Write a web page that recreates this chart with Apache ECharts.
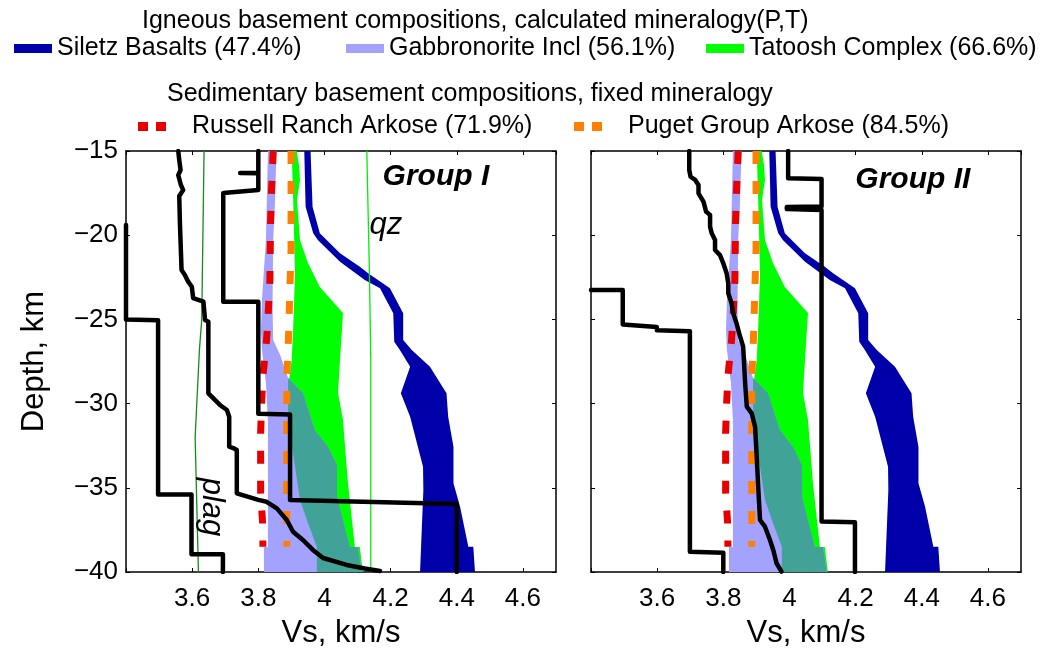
<!DOCTYPE html>
<html>
<head>
<meta charset="utf-8">
<script src="https://cdn.jsdelivr.net/npm/echarts@6/dist/echarts.min.js"></script>
<style>
  html, body { margin: 0; padding: 0; background: #ffffff; }
  #chart { width: 1053px; height: 649px; }
</style>
</head>
<body>
<div id="chart"></div>
<script>
// ---- axis ranges ----
const vsRange = [3.4, 4.7];
const vsStep = 0.2;
const depthRange = [-40, -15];
const depthStep = 5;

// ---- igneous compositions (bands: left / right Vs bound vs depth) ----
const siletzLeft = [[3.939,-15],[3.943,-18.31],[3.966,-19.89],[3.980,-20.29],[4.047,-21.57],[4.122,-22.66],[4.168,-23.15],[4.208,-24.64],[4.211,-26.32],[4.228,-26.82],[4.259,-27.81],[4.231,-29.39],[4.259,-30.78],[4.298,-33.75],[4.299,-35.13],[4.289,-40]];
const siletzRight = [[3.958,-15],[3.964,-18.31],[3.986,-19.89],[4.047,-21.07],[4.107,-21.87],[4.132,-22.26],[4.198,-23.15],[4.238,-24.64],[4.238,-26.22],[4.264,-26.82],[4.319,-27.81],[4.369,-29.39],[4.374,-30.78],[4.390,-32.56],[4.390,-34.73],[4.410,-36.12],[4.435,-38.50],[4.450,-38.50],[4.455,-40]];

const gabbroLeft = [[3.829,-15],[3.823,-20.29],[3.811,-23.85],[3.808,-25.63],[3.811,-26.82],[3.823,-28.78],[3.829,-30.97],[3.829,-38.52],[3.817,-38.52],[3.817,-40]];
const gabbroRight = [[3.855,-15],[3.850,-18.33],[3.845,-20.29],[3.843,-24.26],[3.845,-26.22],[3.866,-27.11],[3.890,-28.48],[3.935,-29.37],[3.971,-31.57],[4.011,-32.58],[4.038,-33.65],[4.038,-35.55],[4.077,-38.52],[4.101,-38.52],[4.113,-40]];

const tatooshLeft = [[3.901,-15],[3.906,-18.33],[3.911,-22.24],[3.906,-25.21],[3.901,-27.41],[3.893,-28.6],[3.890,-30.38],[3.899,-32.16],[3.926,-35.72],[3.950,-37.09],[3.977,-38.52],[3.977,-40]];
const tatooshRight = [[3.916,-15],[3.923,-15.83],[3.926,-16.72],[3.917,-17.91],[3.926,-20.29],[3.950,-21.65],[3.986,-23.08],[4.056,-24.62],[4.047,-27.41],[4.041,-29.37],[4.056,-30.97],[4.071,-34.71],[4.092,-38.52],[4.107,-38.52],[4.116,-40]];

// where the gabbronorite and Tatoosh ranges overlap
const overlapLeft = [[3.890,-28.48],[3.890,-30.38],[3.899,-32.16],[3.926,-35.72],[3.950,-37.09],[3.977,-38.52],[3.977,-40]];
const overlapRight = [[3.890,-28.48],[3.935,-29.37],[3.971,-31.57],[4.011,-32.58],[4.038,-33.65],[4.038,-35.55],[4.077,-38.52],[4.101,-38.52],[4.113,-40]];

// ---- sedimentary compositions (fixed mineralogy) ----
const russellRanch = [[3.845,-15],[3.840,-17.32],[3.837,-19.28],[3.835,-22.66],[3.830,-24.62],[3.825,-26.22],[3.815,-28.18],[3.810,-29.96],[3.807,-31.75],[3.807,-35.31],[3.813,-37.09],[3.814,-38.5]];
const pugetGroup = [[3.899,-15],[3.899,-20.88],[3.891,-26.22],[3.886,-28.6],[3.886,-38.5]];

// ---- single-mineral references ----
const plagLine = [[3.636,-15],[3.629,-25.0],[3.622,-26.8],[3.609,-32.0],[3.619,-40]];
const qzLine = [[4.128,-15],[4.136,-22.3],[4.140,-27.4],[4.140,-40]];

// ---- observed Vs profiles, Group I ----
const groupIProfileA = [[3.40,-19.4],[3.40,-25.0],[3.497,-25.05],[3.497,-35.4],[3.598,-35.4],[3.598,-38.95],[3.693,-38.95],[3.693,-40]];
const groupIProfileB = [[3.558,-15],[3.561,-15.53],[3.565,-16.13],[3.558,-16.43],[3.566,-17.02],[3.573,-17.32],[3.561,-17.67],[3.563,-19.28],[3.568,-22.07],[3.578,-22.36],[3.588,-22.76],[3.599,-23.06],[3.603,-23.73],[3.634,-23.95],[3.639,-25.04],[3.649,-25.14],[3.649,-29.39],[3.659,-29.59],[3.684,-30.08],[3.705,-30.38],[3.712,-30.78],[3.712,-32.56],[3.724,-32.64],[3.735,-32.76],[3.735,-35.33],[3.800,-35.72],[3.825,-35.83],[3.856,-36.22],[3.886,-36.91],[3.905,-37.61],[3.935,-38.10],[3.965,-38.69],[3.996,-39.17],[4.067,-39.58],[4.122,-39.79],[4.168,-39.94]];
const groupIProfileC = [[3.80,-15],[3.80,-16.3],[3.745,-16.3],[3.80,-16.32],[3.80,-17.32],[3.694,-17.5],[3.694,-23.95],[3.80,-23.95],[3.80,-30.6],[3.896,-30.65],[3.896,-35.72],[4.40,-35.96],[4.40,-40]];

// ---- observed Vs profiles, Group II ----
const groupIIProfileD = [[3.40,-23.25],[3.496,-23.25],[3.496,-25.3],[3.599,-25.45],[3.599,-25.65],[3.699,-25.7],[3.699,-38.8],[3.800,-38.85],[3.800,-40]];
const groupIIProfileE = [[3.697,-15],[3.697,-16.13],[3.701,-16.53],[3.715,-16.72],[3.725,-17.02],[3.725,-17.51],[3.740,-18.01],[3.748,-18.60],[3.760,-18.80],[3.760,-19.49],[3.765,-19.89],[3.775,-20.29],[3.775,-20.88],[3.790,-21.18],[3.800,-21.67],[3.810,-22.26],[3.815,-22.86],[3.815,-23.45],[3.825,-24.05],[3.830,-24.64],[3.840,-25.23],[3.848,-25.83],[3.860,-26.62],[3.866,-28.79],[3.871,-30.18],[3.886,-30.58],[3.896,-31.37],[3.901,-33.15],[3.906,-35.13],[3.911,-36.91],[3.926,-37.31],[3.941,-38.10],[3.951,-38.69],[3.961,-39.48],[3.976,-39.98]];
const groupIIProfileF = [[3.996,-15],[3.996,-16.62],[4.097,-16.66],[4.097,-18.3],[3.992,-18.33],[3.992,-18.45],[4.097,-18.5],[4.097,-37.0],[4.198,-37.05],[4.198,-40]];

// ---- text ----
const legendNames = ['Siletz Basalts (47.4%)', 'Gabbronorite Incl (56.1%)', 'Tatoosh Complex (66.6%)', 'Russell Ranch Arkose (71.9%)', 'Puget Group Arkose (84.5%)'];
const headings = ['Igneous basement compositions, calculated mineralogy(P,T)', 'Sedimentary basement compositions, fixed mineralogy'];
const panelLabels = [
  { text: 'Group I', panel: 0, at: [4.337, -16.54], kind: 'group' },
  { text: 'Group II', panel: 1, at: [4.373, -16.72], kind: 'group' },
  { text: 'qz', panel: 0, at: [4.186, -19.39], kind: 'mineral' },
  { text: 'plag', panel: 0, at: [3.658, -36.14], kind: 'mineralV' }
];

const FONT = "'Liberation Sans', Arial, Helvetica, sans-serif";
const COLORS = {
  siletz: '#0000aa', gabbro: '#a3a3ff', tatoosh: '#00ff00', overlap: '#41a397',
  russell: '#e80000', puget: '#ff8000', plag: '#168a16', qz: '#00ee00', profile: '#000000'
};

const chart = echarts.init(document.getElementById('chart'), null, { renderer: 'canvas' });

function fmtVs(v) {
  const r = Math.round(v * 10) / 10;
  return Math.abs(r - vsRange[0]) < 1e-6 ? '' : String(r);
}
function fmtDepth(v) { return String(v).replace('-', '\u2212'); }

function xAxisDef(gridIndex, position, labelled) {
  return {
    type: 'value', gridIndex, position,
    min: vsRange[0], max: vsRange[1], interval: vsStep,
    axisLine: { show: true, onZero: false, lineStyle: { color: '#000', width: 1.5 } },
    axisTick: { show: true, inside: true, length: 4, lineStyle: { color: '#000', width: 1 } },
    axisLabel: { show: labelled, formatter: fmtVs, fontSize: 26, color: '#000', fontFamily: FONT, margin: 14 },
    splitLine: { show: false },
    name: labelled ? 'Vs, km/s' : '',
    nameLocation: 'middle', nameGap: 46,
    nameTextStyle: { fontSize: 31, color: '#000', fontFamily: FONT }
  };
}
function yAxisDef(gridIndex, position, labelled, named) {
  return {
    type: 'value', gridIndex, position,
    min: depthRange[0], max: depthRange[1], interval: depthStep,
    axisLine: { show: true, onZero: false, lineStyle: { color: '#000', width: 1.5 } },
    axisTick: { show: true, inside: true, length: 4, lineStyle: { color: '#000', width: 1 } },
    axisLabel: { show: labelled, formatter: fmtDepth, fontSize: 26, color: '#000', fontFamily: FONT, margin: 8 },
    splitLine: { show: false },
    name: named ? 'Depth, km' : '',
    nameLocation: 'middle', nameGap: 76,
    nameTextStyle: { fontSize: 31, color: '#000', fontFamily: FONT }
  };
}

function band(name, color, left, right, panel, z) {
  const pts = left.concat(right.slice().reverse());
  return {
    type: 'custom', name, xAxisIndex: panel, yAxisIndex: panel, z,
    silent: true, clip: true, animation: false,
    itemStyle: { color },
    data: pts,
    encode: { x: 0, y: 1 },
    renderItem: function (params, api) {
      if (params.dataIndex !== 0) return null;
      return {
        type: 'polygon',
        shape: { points: pts.map(function (p) { return api.coord(p); }) },
        style: { fill: color, stroke: null }
      };
    }
  };
}

function curve(name, data, panel, lineStyle, z) {
  return {
    type: 'line', name, data, xAxisIndex: panel, yAxisIndex: panel, z,
    showSymbol: false, symbol: 'none', silent: true, clip: true, animation: false,
    lineStyle: Object.assign({ join: 'round', cap: 'round' }, lineStyle),
    itemStyle: { color: lineStyle.color, borderWidth: 0 }
  };
}

const series = [];
[0, 1].forEach(function (p) {
  series.push(band(legendNames[2], COLORS.tatoosh, tatooshLeft, tatooshRight, p, 2));
  series.push(band(legendNames[1], COLORS.gabbro, gabbroLeft, gabbroRight, p, 3));
  series.push(band('overlap', COLORS.overlap, overlapLeft, overlapRight, p, 4));
  series.push(band(legendNames[0], COLORS.siletz, siletzLeft, siletzRight, p, 5));
  series.push(curve(legendNames[3], russellRanch, p, { color: COLORS.russell, width: 7, type: [13, 17], cap: 'butt' }, 6));
  series.push(curve(legendNames[4], pugetGroup, p, { color: COLORS.puget, width: 7, type: [13, 17], cap: 'butt' }, 6));
});
series.push(curve('plag', plagLine, 0, { color: COLORS.plag, width: 1.3 }, 7));
series.push(curve('qz', qzLine, 0, { color: COLORS.qz, width: 1.3 }, 7));
const profileStyle = { color: COLORS.profile, width: 4.5 };
series.push(curve('profile A', groupIProfileA, 0, profileStyle, 10));
series.push(curve('profile B', groupIProfileB, 0, profileStyle, 10));
series.push(curve('profile C', groupIProfileC, 0, profileStyle, 10));
series.push(curve('profile D', groupIIProfileD, 1, profileStyle, 10));
series.push(curve('profile E', groupIIProfileE, 1, profileStyle, 10));
series.push(curve('profile F', groupIIProfileF, 1, profileStyle, 10));

const legendText = { fontSize: 25, color: '#000', fontFamily: FONT };
function solidLegend(name, left, top) {
  return {
    data: [{ name, icon: 'rect' }], left, top, padding: 0, selectedMode: false,
    itemWidth: 38, itemHeight: 9, textStyle: legendText
  };
}
function dashLegend(name, left, top) {
  return {
    data: [{ name, icon: 'path://M0,0h10v9h-10zM18,0h10v9h-10z' }], left, top, padding: 0, selectedMode: false,
    itemWidth: 28, itemHeight: 9, itemStyle: { borderWidth: 0 }, lineStyle: { width: 0 },
    textStyle: Object.assign({ padding: [0, 0, 0, 21] }, legendText)
  };
}

const headingStyle = { fontSize: 25, fontWeight: 'normal', color: '#000', fontFamily: FONT };
const gridBox = { width: 430, height: 421, top: 151, containLabel: false, outerBoundsMode: 'none' };

chart.setOption({
  animation: false,
  backgroundColor: '#ffffff',
  title: [
    { text: headings[0], left: 142, top: 9, padding: 0, textStyle: headingStyle },
    { text: headings[1], left: 167, top: 82, padding: 0, textStyle: headingStyle }
  ],
  legend: [
    solidLegend(legendNames[0], 14, 36),
    solidLegend(legendNames[1], 346, 36),
    solidLegend(legendNames[2], 706, 36),
    dashLegend(legendNames[3], 138, 114),
    dashLegend(legendNames[4], 574, 114)
  ],
  grid: [
    Object.assign({ left: 126 }, gridBox),
    Object.assign({ left: 591 }, gridBox)
  ],
  xAxis: [xAxisDef(0, 'bottom', true), xAxisDef(1, 'bottom', true), xAxisDef(0, 'top', false), xAxisDef(1, 'top', false)],
  yAxis: [yAxisDef(0, 'left', true, true), yAxisDef(1, 'left', false, false), yAxisDef(0, 'right', false, false), yAxisDef(1, 'right', false, false)],
  series
});

// in-panel annotations, placed at data coordinates
const graphics = panelLabels.map(function (lab) {
  const xy = chart.convertToPixel({ xAxisIndex: lab.panel, yAxisIndex: lab.panel }, lab.at);
  const style = {
    text: lab.text, fill: '#000', fontFamily: FONT, align: 'center', verticalAlign: 'middle',
    fontSize: lab.kind === 'group' ? 30 : 31,
    fontWeight: lab.kind === 'group' ? 'bold' : 'normal',
    fontStyle: 'italic'
  };
  return { type: 'text', x: xy[0], y: xy[1], rotation: lab.kind === 'mineralV' ? -Math.PI / 2 : 0, style, z: 20 };
});
chart.setOption({ graphic: graphics });
</script>
</body>
</html>
